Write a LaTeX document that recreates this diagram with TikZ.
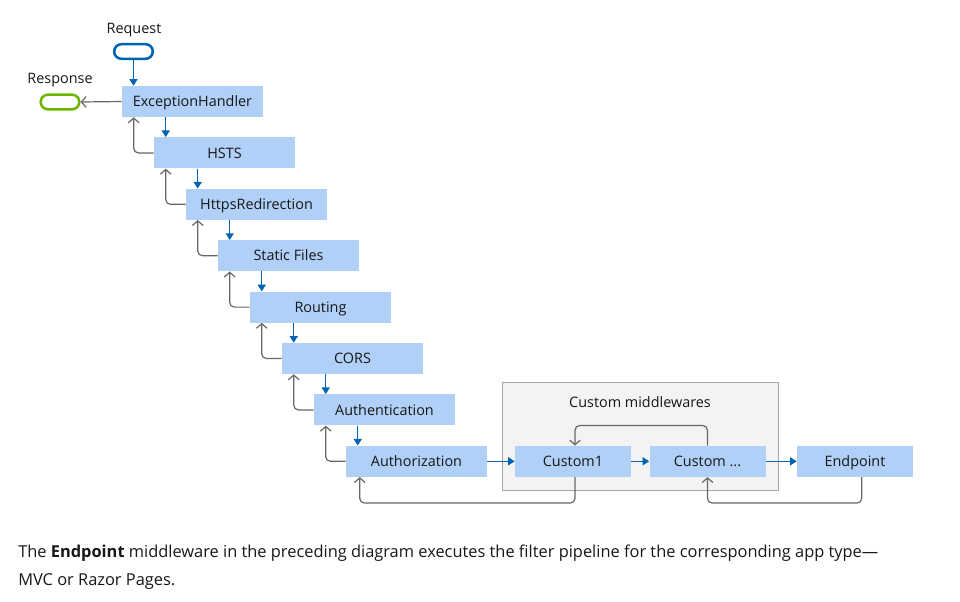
\documentclass[tikz,border=0pt]{standalone}
\usepackage{fontspec}
\setmainfont{Open Sans}
\usetikzlibrary{arrows.meta,calc}
\definecolor{boxblue}{HTML}{B0D0F7}
\definecolor{flowblue}{HTML}{0063B1}
\definecolor{retgray}{HTML}{666666}
\definecolor{pillgreen}{HTML}{6BB700}
\definecolor{txt}{HTML}{171717}
\definecolor{grpfill}{HTML}{F3F3F3}
\definecolor{grpline}{HTML}{A6A6A6}
\begin{document}
\begin{tikzpicture}[x=0.75pt,y=-0.75pt,
  mw/.style={fill=boxblue, minimum width=105.75pt, minimum height=23.25pt, inner sep=0pt, font=\fontsize{10.8}{12}\selectfont, text=txt, text height=7.8pt, text depth=0pt},
  cw/.style={mw, minimum width=87pt},
  pill/.style={draw, line width=1.9pt, minimum width=29pt, minimum height=11pt, rounded corners=5.5pt, inner sep=0pt},
  lbl/.style={font=\fontsize{10.8}{12}\selectfont, text=txt, inner sep=0pt, text height=7.8pt, text depth=0pt},
  flow/.style={draw=flowblue, line width=1.1pt, -{Triangle[length=5pt,width=6pt]}},
  ret/.style={draw=retgray, line width=0.9pt, rounded corners=3.5pt, -{Straight Barb[length=3.5pt,width=8pt]}},
  para/.style={font=\fontsize{12.3}{14}\selectfont, text=txt, inner sep=0pt, anchor=base west}]
\useasboundingbox (0,0) rectangle (960,601);
% group
\node[fill=grpfill, draw=grpline, line width=0.75pt, minimum width=207pt, minimum height=81pt, inner sep=0pt] (grp) at (640,436) {};
\node[lbl] (grplbl) at (640,402) {Custom middlewares};
% terminals
\node[lbl] (reqlbl) at (134,28.7) {Request};
\node[pill, draw=flowblue] (req) at (133.5,51.5) {};
\node[lbl] (reslbl) at (60,78.7) {Response};
\node[pill, draw=pillgreen] (res) at (60,102) {};
% middlewares
\node[mw] (EH) at (192.5,101.5) {ExceptionHandler};
\node[mw] (HSTS) at (224.5,152.9) {HSTS};
\node[mw] (HR) at (256.5,204.3) {HttpsRedirection};
\node[mw] (SF) at (288.5,255.7) {Static Files};
\node[mw] (RT) at (320.5,307.1) {Routing};
\node[mw] (CORS) at (352.5,358.5) {CORS};
\node[mw] (AN) at (384.5,409.9) {Authentication};
\node[mw] (AZ) at (416.5,461.3) {Authorization};
\node[cw] (C1) at (573,461.3) {Custom1};
\node[cw] (CX) at (707.5,461.3) {Custom ...};
\node[cw] (EP) at (855,461.3) {Endpoint};
% request/response
\draw[flow] (req) -- (req |- EH.north);
\draw[ret, rounded corners=0pt] (EH.west) -- (res.east);
% forward flow down the staircase
\foreach \a/\b in {EH/HSTS, HSTS/HR, HR/SF, SF/RT, RT/CORS, CORS/AN, AN/AZ}{
  \draw[flow] ([xshift=9pt]\b.north west |- \a.south) -- ([xshift=9pt]\b.north west);
  \draw[ret] (\b.west) -| ([xshift=9pt]\a.south west);
}
\draw[flow] (AZ) -- (C1);
\draw[flow] (C1) -- (CX);
\draw[flow] (CX) -- (EP);
% returns
\draw[ret] ([xshift=1.5pt]C1.south) -- ++(0,26) -| ([xshift=10.5pt]AZ.south west);
\draw[ret] ([xshift=5pt]EP.south) -- ++(0,26) -| (CX.south);
\draw[ret] (CX.north) -- ++(0,-20) -| ([xshift=1.5pt]C1.north);
% paragraph
\node[para] (p1) at (18,557) {The \textbf{Endpoint} middleware in the preceding diagram executes the filter pipeline for the corresponding app type—};
\node[para] (p2) at (18,585) {MVC or Razor Pages.};
\end{tikzpicture}
\end{document}
